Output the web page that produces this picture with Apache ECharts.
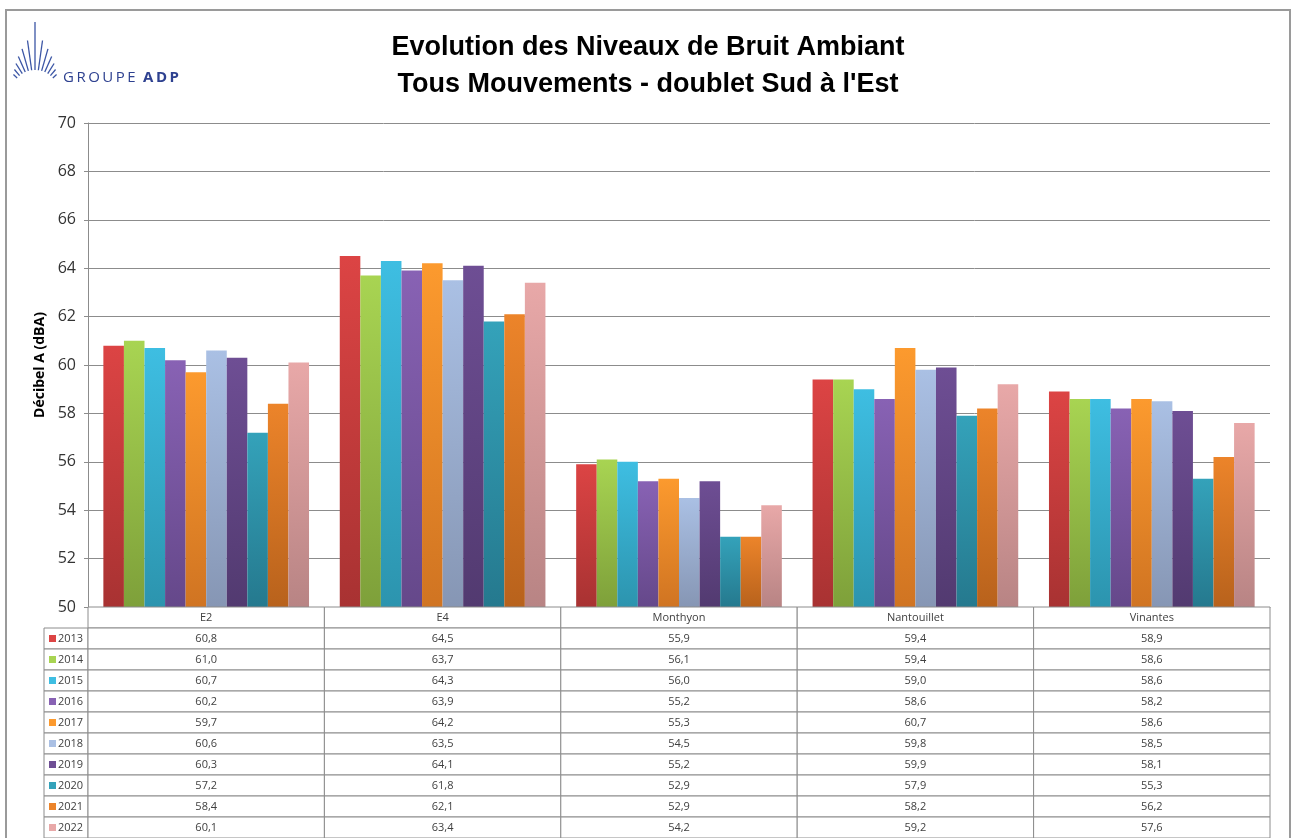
<!DOCTYPE html>
<html>
<head>
<meta charset="utf-8">
<script src="https://cdn.jsdelivr.net/npm/echarts@6/dist/echarts.min.js"></script>
<style>
  html, body { margin: 0; padding: 0; background: #fff; }
  #chart { width: 1296px; height: 838px; }
</style>
</head>
<body>
<div id="chart"></div>
<script>
// stations (categories)
const stations = ['E2', 'E4', 'Monthyon', 'Nantouillet', 'Vinantes']
const years = ['2013', '2014', '2015', '2016', '2017', '2018', '2019', '2020', '2021', '2022']

// values per year, in station order
const v2013 = [60.8, 64.5, 55.9, 59.4, 58.9]
const v2014 = [61.0, 63.7, 56.1, 59.4, 58.6]
const v2015 = [60.7, 64.3, 56.0, 59.0, 58.6]
const v2016 = [60.2, 63.9, 55.2, 58.6, 58.2]
const v2017 = [59.7, 64.2, 55.3, 60.7, 58.6]
const v2018 = [60.6, 63.5, 54.5, 59.8, 58.5]
const v2019 = [60.3, 64.1, 55.2, 59.9, 58.1]
const v2020 = [57.2, 61.8, 52.9, 57.9, 55.3]
const v2021 = [58.4, 62.1, 52.9, 58.2, 56.2]
const v2022 = [60.1, 63.4, 54.2, 59.2, 57.6]
const values = [v2013, v2014, v2015, v2016, v2017, v2018, v2019, v2020, v2021, v2022]

const yMin = 50
const yMax = 70
const yStep = 2

// top / bottom colours of the bar gradients
const topColors = ['#DC4444', '#A8D452', '#3EBEE2', '#8862B4', '#FC9A2E', '#AAC0E4', '#6E4E94', '#34A2BA', '#EC842A', '#E8A8A8']
const bottomColors = ['#A83232', '#7EA03A', '#2C94AE', '#65488A', '#D07422', '#8696B4', '#523A70', '#25798E', '#B8621C', '#B88484']

// plot geometry (px)
const G = { left: 88, top: 123, width: 1182, height: 484 }
const rowH = 21
const legendX = 44

const fmt = v => v.toFixed(1).replace('.', ',')

const chart = echarts.init(document.getElementById('chart'))

const series = years.map((y, i) => ({
  name: y,
  type: 'bar',
  data: values[i],
  barGap: 0,
  barCategoryGap: '13%',
  itemStyle: {
    color: new echarts.graphic.LinearGradient(0, 0, 0, 1, [
      { offset: 0, color: topColors[i] },
      { offset: 1, color: bottomColors[i] }
    ])
  }
}))

// data table under the plot
function buildTable() {
  const els = []
  const colW = G.width / stations.length
  const y0 = G.top + G.height
  const cellStyle = { fill: '#fff', stroke: '#8c8c8c', lineWidth: 1 }
  const txt = { fontSize: 11, fill: '#404040', fontFamily: 'Open Sans, sans-serif' }
  stations.forEach((s, c) => {
    const x = G.left + c * colW
    els.push({ type: 'rect', shape: { x: x, y: y0, width: colW, height: rowH }, style: cellStyle, z: 10 })
    els.push({ type: 'text', x: x + colW / 2, y: y0 + rowH / 2, style: Object.assign({ text: s, align: 'center', verticalAlign: 'middle' }, txt), z: 11 })
  })
  years.forEach((yr, r) => {
    const yy = y0 + (r + 1) * rowH
    els.push({ type: 'rect', shape: { x: legendX, y: yy, width: G.left - legendX, height: rowH }, style: cellStyle, z: 10 })
    els.push({ type: 'rect', shape: { x: legendX + 5, y: yy + 7, width: 7, height: 7 }, style: { fill: topColors[r] }, z: 11 })
    els.push({ type: 'text', x: legendX + 14, y: yy + rowH / 2, style: Object.assign({ text: yr, align: 'left', verticalAlign: 'middle' }, txt), z: 11 })
    stations.forEach((s, c) => {
      const x = G.left + c * colW
      els.push({ type: 'rect', shape: { x: x, y: yy, width: colW, height: rowH }, style: cellStyle, z: 10 })
      els.push({ type: 'text', x: x + colW / 2, y: yy + rowH / 2, style: Object.assign({ text: fmt(values[r][c]), align: 'center', verticalAlign: 'middle' }, txt), z: 11 })
    })
  })
  return els
}

// Groupe ADP logo: fan of thin lines + text
function buildLogo() {
  const els = []
  const fx = 35, fy = 94
  const lens = [72, 54, 47, 41, 36, 32, 29]
  for (let k = -6; k <= 6; k++) {
    const a = k * 8 * Math.PI / 180
    const r1 = 24
    const r2 = lens[Math.abs(k)]
    els.push({
      type: 'line',
      shape: { x1: fx + r1 * Math.sin(a), y1: fy - r1 * Math.cos(a), x2: fx + r2 * Math.sin(a), y2: fy - r2 * Math.cos(a) },
      style: { stroke: '#3B55A5', lineWidth: 1.3 }
    })
  }
  const sp = '\u2009'
  els.push({
    type: 'text', x: 63, y: 78,
    style: {
      text: '{a|' + 'GROUPE'.split('').join(sp) + sp + sp + sp + '}{b|' + 'ADP'.split('').join(sp) + '}',
      verticalAlign: 'middle',
      rich: {
        a: { fontSize: 15, fill: '#2E4190', fontFamily: 'Open Sans, sans-serif' },
        b: { fontSize: 15, fill: '#2E4190', fontWeight: 'bold', fontFamily: 'Open Sans, sans-serif' }
      }
    }
  })
  return els
}

chart.setOption({
  animation: false,
  backgroundColor: '#fff',
  title: {
    text: 'Evolution des Niveaux de Bruit Ambiant\nTous Mouvements - doublet Sud à l\'Est',
    left: 'center',
    top: 24,
    textStyle: { fontSize: 27, fontWeight: 'bold', color: '#000', lineHeight: 37, fontFamily: 'Liberation Sans, sans-serif' }
  },
  grid: G,
  xAxis: {
    type: 'category',
    data: stations,
    axisLine: { lineStyle: { color: '#8c8c8c' } },
    axisTick: { show: false },
    axisLabel: { show: false }
  },
  yAxis: {
    type: 'value',
    min: yMin,
    max: yMax,
    interval: yStep,
    name: 'Décibel A (dBA)',
    nameLocation: 'middle',
    nameRotate: 90,
    nameGap: 40,
    nameTextStyle: { fontSize: 14, fontWeight: 'bold', color: '#000', fontFamily: 'Open Sans, sans-serif' },
    axisLine: { show: true, lineStyle: { color: '#8c8c8c' } },
    axisTick: { show: true, length: 4, lineStyle: { color: '#8c8c8c' } },
    axisLabel: { fontSize: 16, color: '#333', margin: 12, fontFamily: 'Open Sans, sans-serif' },
    splitLine: { lineStyle: { color: '#8c8c8c', width: 1 } }
  },
  series: series,
  graphic: [
    { type: 'rect', shape: { x: 6, y: 10, width: 1284, height: 850 }, style: { fill: 'none', stroke: '#9a9a9a', lineWidth: 2 }, z: 0 },
    { type: 'group', children: buildLogo() },
    { type: 'group', children: buildTable() }
  ]
})
</script>
</body>
</html>
